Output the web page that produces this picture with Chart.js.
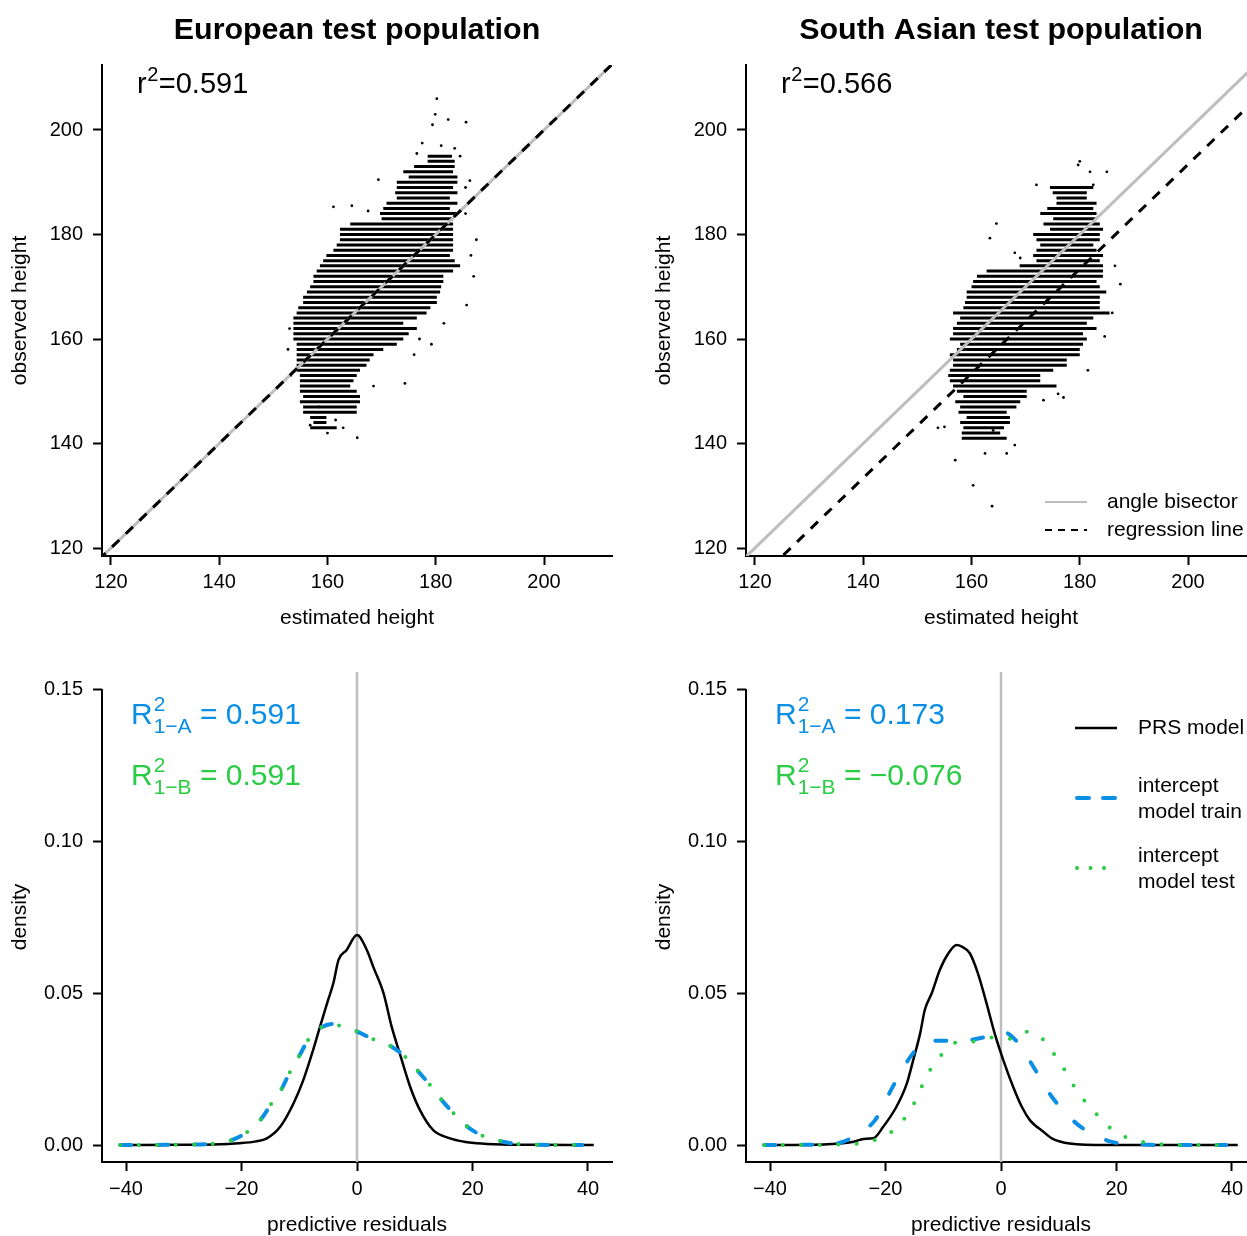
<!DOCTYPE html>
<html><head><meta charset="utf-8">
<script src="https://cdn.jsdelivr.net/npm/chart.js@4.4.1/dist/chart.umd.min.js"></script>
<style>
html,body{margin:0;padding:0;background:#fff;}
body{width:1247px;height:1236px;overflow:hidden;position:relative;}
canvas{position:absolute;}
</style></head><body>
<canvas id="tl" width="645" height="640" style="left:0px;top:0px"></canvas>
<canvas id="tr" width="645" height="640" style="left:644px;top:0px"></canvas>
<canvas id="bl" width="645" height="630" style="left:0px;top:620px"></canvas>
<canvas id="br" width="645" height="630" style="left:644px;top:620px"></canvas>
<script>
// ---------------- DATA ----------------
const panelTitles = ['European test population', 'South Asian test population'];
const estTicks = [120, 140, 160, 180, 200];
const estTickLabels = ['120', '140', '160', '180', '200'];
const obsTicks = [120, 140, 160, 180, 200];
const obsTickLabels = ['120', '140', '160', '180', '200'];
const residTicks = [-40, -20, 0, 20, 40];
const residTickLabels = ['\u221240', '\u221220', '0', '20', '40'];
const densTicks = [0, 0.05, 0.10, 0.15];
const densTickLabels = ['0.00', '0.05', '0.10', '0.15'];

// European scatter: rows of observed height (cm) with range of estimated height
const euObs = [195,194,193,192,191,190,189,188,187,186,185,184,183,182,181,180,179,178,177,176,175,174,173,172,171,170,169,168,167,166,165,164,163,162,161,160,159,158,157,156,155,154,153,152,151,150,149,148,147,146,145,144,143];
const euEstLo = [178.5,178.5,176,174,175,172.8,172.8,172.5,172.8,170.9,170.3,169.7,170,164.2,162.3,162.3,162.3,161.7,161.1,159.8,159.2,158.6,158,157.4,157.4,156.8,156.2,155.5,155.5,154.6,154.3,153.7,153.7,153.7,153.7,153.7,154.3,154.3,154.3,154.3,154.3,154.3,154.9,154.9,154.9,154.9,155.5,154.9,155.5,155.5,156.8,157.4,156.8];
const euEstHi = [183,183.5,183.5,183.2,184,184,183.2,184,182.6,184,182.6,184,183.2,183.2,183.2,183.2,183.2,183.2,183.2,182.6,183.5,184.5,183.2,181.4,181.4,181,180.8,180.2,180.2,179,178.3,176.5,174,176.5,175,174,172.8,170.3,168.5,167.8,167.2,166,165.4,164.8,164.2,165.4,166,166,165.4,165.4,159.8,159.8,161.7];
const euOutEst = [180.2,179.9,182.3,185.6,179.4,177.5,181,183.5,176.5,184.5,169.4,186.3,185.5,161.1,164.5,167.5,187.5,185.5,186.5,187,185.7,177,179.2,176,181.5,168.5,174.3,165.5,156.8,161.5,153,152.7,153.2,158.5,160,162.9];
const euOutObs = [206,203,202,201.5,201,197.5,197,196.5,195.5,195,190.5,190.3,189,185.3,185.5,184.5,179,184,176,172,166.5,160,159,157,163,151,151.5,141.1,143.5,144.5,162,158,153,147,142,143];
const euRegCoef = [0.0, 1.0];   // intercept, slope
const euR2 = '0.591';

// South Asian scatter
const saObs = [189,188,187,186,185,184,183,182,181,180,179,178,177,176,175,174,173,172,171,170,169,168,167,166,165,164,163,162,161,160,159,158,157,156,155,154,153,152,151,150,149,148,147,146,145,144,143,142,141];
const saEstLo = [174.5,175,175.7,175.7,174,172.7,175.1,173.3,174.5,171.4,172,172.7,172,171.4,172,168.9,162.8,161,160.3,160,159.1,159.1,158.8,158.5,156.6,157.9,157.3,156.6,156.6,156,157.9,157.3,156,156.6,156.6,156,155.7,156,156.6,157.3,158.5,157,157.9,157.6,159.1,157.9,158.5,158.2,158.2];
const saEstHi = [182.5,181.3,181.3,183.1,182.5,183.1,183.1,183.7,184.3,183.7,183.7,182.5,183.1,184.3,183.7,184.3,184.3,184.3,183.1,183.7,184.9,183.7,183.7,183.7,185.5,182.5,181.3,183.1,180.6,181.3,180.6,180,180,177.6,177.6,175.1,172.7,172.7,175.7,170.2,170.2,169,168.3,166.5,167.1,167.1,166,165.3,166.5];
const saOutEst = [180,179.7,181.9,185,172,182.5,164.6,163.4,168,169,186.5,187.5,186,184.6,181.5,176,177,173.3,153.8,155,164,168,162.5,166.5,157,160.3,163.8];
const saOutObs = [194,193.3,192,192,189.5,189.5,182.1,179.3,176.5,175.5,174,170.5,165,160.5,154,149.5,148.8,148.3,143,143.2,142.5,139.7,138.1,138.1,136.8,132,128];
const saRegCoef = [-6.6, 1.0];
const saR2 = '0.566';

// Density of predictive residuals, European
const euPrsX = [-41,-30,-25,-20.3,-17.5,-15.6,-13.3,-11.0,-9.3,-7.6,-6.4,-5.0,-4.1,-3.2,-1.8,0,1.7,2.8,4.6,6.0,7.4,9.2,10.9,13.2,16.1,18.5,20.7,25,30,41];
const euPrsD = [0,0.0001,0.0002,0.0006,0.0012,0.0022,0.006,0.0137,0.0214,0.0313,0.039,0.0478,0.0533,0.061,0.0643,0.0692,0.0643,0.0588,0.05,0.039,0.0302,0.0192,0.0115,0.0049,0.0022,0.0011,0.0006,0.0002,0.0001,0];
const euTrainX = [-41,-30,-25,-21.7,-18.8,-16.5,-14.8,-13.0,-11.5,-9.9,-8.4,-6.4,-4.1,-2.6,0,3.1,6.0,8.6,10.9,12.9,14.9,17.0,19.5,22.2,25.3,27.5,30,39];
const euTrainD = [0,0.0001,0.0004,0.0016,0.0046,0.0088,0.0137,0.0187,0.0245,0.0297,0.0348,0.0385,0.0399,0.039,0.0374,0.0346,0.0324,0.0286,0.0236,0.0192,0.0143,0.0099,0.0055,0.0027,0.0011,0.0004,0.0001,0];
const euTestX = [-41,-30,-25,-21.7,-18.8,-16.5,-14.8,-13.0,-11.5,-9.9,-8.4,-6.4,-4.1,-2.6,0,3.1,6.0,8.6,10.9,12.9,14.9,17.0,19.5,22.2,25.3,27.5,30,39];
const euTestD = [0,0.0001,0.0004,0.0016,0.0046,0.0088,0.0137,0.0187,0.0245,0.0297,0.0348,0.0385,0.0399,0.039,0.0374,0.0346,0.0324,0.0286,0.0236,0.0192,0.0143,0.0099,0.0055,0.0027,0.0011,0.0004,0.0001,0];
const euR2A = '0.591', euR2B = '0.591';

// Density of predictive residuals, South Asian
const saPrsX = [-41,-30.8,-25.5,-23.8,-22.1,-20.4,-18.1,-16.3,-15.2,-14.0,-13.2,-12.0,-10.6,-9.1,-7.7,-6.8,-5.4,-4.0,-2.5,-1.1,0.4,2.1,3.6,5.0,6.2,7.0,8.8,11.9,18.3,41];
const saPrsD = [0,0.0002,0.0011,0.002,0.0022,0.006,0.0126,0.0203,0.028,0.0368,0.0445,0.05,0.0577,0.0632,0.0659,0.0654,0.0632,0.0566,0.0467,0.0368,0.028,0.0192,0.0126,0.0082,0.006,0.0049,0.0022,0.0005,0,0];
const saTrainX = [-41,-30,-27.3,-24.5,-21.8,-18.8,-15.6,-13.5,-10.6,-7,-4.8,-2.8,0.3,2.8,5.6,8.8,13.2,18.7,24,30,39];
const saTrainD = [0,0.0002,0.0011,0.004,0.0082,0.019,0.0293,0.0335,0.0344,0.0342,0.0348,0.0356,0.0373,0.034,0.0258,0.0159,0.0069,0.0013,0.0002,0,0];
const saTestX = [-41,-31.2,-28.0,-24.7,-21.5,-18.8,-16.6,-14.9,-13.6,-12.1,-10.2,-7.7,-4.5,-1.3,1.9,4.8,7.4,9.3,11.1,12.7,14.6,16.7,19.0,21.8,24.9,28.1,31.4,39];
const saTestD = [0,0,0.0002,0.0005,0.0019,0.0046,0.009,0.0143,0.0198,0.0253,0.03,0.0338,0.0341,0.0355,0.035,0.0374,0.0346,0.0297,0.0245,0.0192,0.0143,0.0099,0.0055,0.0024,0.0009,0.0002,0,0];
const saR2A = '0.173', saR2B = '\u22120.076';

const legendTop = ['angle bisector', 'regression line'];
const legendBottom = [['PRS model'], ['intercept', 'model train'], ['intercept', 'model test']];

// ---------------- STYLE ----------------
const FF = "'Liberation Sans', Arial, Helvetica, sans-serif";
const BLUE = '#0A8FE4';
const GREEN = '#2ACB45';
const GREY = '#BEBEBE';
Chart.defaults.font.family = FF;
Chart.defaults.color = '#000';

const decorations = {};
Chart.register({
  id: 'deco',
  afterDraw(chart) { const f = decorations[chart.canvas.id]; if (f) f(chart.ctx, chart); }
});

function xy(xs, ys) { return xs.map((v, i) => ({x: v, y: ys[i]})); }

function axisCommon(ticksVals, labels, fontSize, pad, titleText, titlePad, isY, fitSize, borderShow) {
  return {
    type: 'linear',
    afterBuildTicks: s => { s.ticks = ticksVals.map(v => ({value: v})); },
    afterFit: s => { if (isY) s.width = fitSize; else s.height = fitSize; },
    ticks: {
      autoSkip: false, maxRotation: 0, padding: pad, color: '#000',
      font: {size: fontSize, family: FF},
      callback: (v, i) => labels[i]
    },
    grid: {drawOnChartArea: false, drawTicks: true, tickLength: 9, tickWidth: 2, tickColor: '#000'},
    border: {display: borderShow, color: '#000', width: 2},
    title: {display: true, text: titleText, color: '#000', font: {size: 21, family: FF}, padding: titlePad}
  };
}

function drawSupText(ctx, x, y, base, sup, rest, size) {
  ctx.font = size + 'px ' + FF;
  ctx.fillText(base, x, y);
  const w = ctx.measureText(base).width;
  const ss = Math.round(size * 0.7);
  ctx.font = ss + 'px ' + FF;
  ctx.fillText(sup, x + w + 0.5, y - size * 0.42);
  const ws = ctx.measureText(sup).width;
  ctx.font = size + 'px ' + FF;
  ctx.fillText(rest, x + w + ws + 1, y);
}

function drawR2(ctx, x, y, sub, val, color) {
  const size = 30, ss = 21;
  ctx.fillStyle = color; ctx.textAlign = 'left'; ctx.textBaseline = 'alphabetic';
  ctx.font = size + 'px ' + FF;
  ctx.fillText('R', x, y);
  const w = ctx.measureText('R').width;
  ctx.font = ss + 'px ' + FF;
  ctx.fillText('2', x + w + 1, y - 13);
  const ws = ctx.measureText('2').width;
  ctx.fillText(sub, x + w + 1, y + 9);
  const wb = ctx.measureText(sub).width;
  ctx.font = size + 'px ' + FF;
  ctx.fillText(' = ' + val, x + w + 1 + Math.max(ws, wb), y);
}

function makeTop(id, offX, offY, obs, lo, hi, outEst, outObs, reg, r2, title, showLegend) {
  decorations[id] = (ctx, chart) => {
    const ca = chart.chartArea;
    ctx.save();
    ctx.translate(-offX, -offY);
    ctx.fillStyle = '#000';
    ctx.textAlign = 'center'; ctx.textBaseline = 'alphabetic';
    ctx.font = 'bold 30.4px ' + FF;
    ctx.fillText(title, offX + (ca.left + ca.right) / 2, 39);
    ctx.textAlign = 'left';
    drawSupText(ctx, offX + 137, 93, 'r', '2', '=' + r2, 29);
    if (showLegend) {
      ctx.lineWidth = 2;
      ctx.strokeStyle = GREY; ctx.setLineDash([]);
      ctx.beginPath(); ctx.moveTo(1045, 502); ctx.lineTo(1087, 502); ctx.stroke();
      ctx.strokeStyle = '#000'; ctx.setLineDash([7, 6]);
      ctx.beginPath(); ctx.moveTo(1045, 530); ctx.lineTo(1087, 530); ctx.stroke();
      ctx.setLineDash([]);
      ctx.font = '21px ' + FF; ctx.textBaseline = 'middle'; ctx.fillStyle = '#000';
      ctx.fillText(legendTop[0], 1107, 502);
      ctx.fillText(legendTop[1], 1107, 530);
    }
    ctx.restore();
  };
  const rowData = [];
  obs.forEach((h, i) => { rowData.push({x: lo[i], y: h}, {x: hi[i], y: h}, {x: hi[i], y: null}); });
  const span = [100, 230];
  const bis = span.map(v => ({x: v, y: v}));
  const regLine = span.map(v => ({x: v, y: reg[0] + reg[1] * v}));
  new Chart(document.getElementById(id), {
    type: 'scatter',
    data: {datasets: [
      {data: rowData, showLine: true, spanGaps: false, borderColor: '#000', borderWidth: 3, pointRadius: 0, order: 4},
      {data: xy(outEst, outObs), showLine: false, pointRadius: 1.4, pointBackgroundColor: '#000', pointBorderWidth: 0, order: 3},
      {data: bis, showLine: true, borderColor: GREY, borderWidth: 3, pointRadius: 0, order: 2},
      {data: regLine, showLine: true, borderColor: '#000', borderWidth: 3, borderDash: [10, 9], pointRadius: 0, order: 1}
    ]},
    options: {
      responsive: false, animation: false, devicePixelRatio: 1, events: [],
      layout: {padding: {left: 0, top: 65, right: 33, bottom: 0}},
      plugins: {legend: {display: false}, tooltip: {enabled: false}},
      scales: {
        x: Object.assign(axisCommon(estTicks, estTickLabels, 20, 5, 'estimated height', {top: 0, bottom: 9.4}, false, 84, true), {min: 118.34, max: 212.56}),
        y: Object.assign(axisCommon(obsTicks, obsTickLabels, 20, 10, 'observed height', {top: 7.4, bottom: 0}, true, 102, true), {min: 118.47, max: 212.44})
      }
    }
  });
}

function makeBottom(id, offX, offY, prsX, prsD, trX, trD, teX, teD, r2a, r2b, showLegend) {
  decorations[id] = (ctx, chart) => {
    const ca = chart.chartArea;
    const ys = chart.scales.y;
    ctx.save();
    // partial y axis line (from top tick down to x axis)
    ctx.strokeStyle = '#000'; ctx.lineWidth = 2; ctx.setLineDash([]);
    ctx.beginPath();
    ctx.moveTo(Math.round(ca.left), ys.getPixelForValue(densTicks[densTicks.length - 1]) - 1);
    ctx.lineTo(Math.round(ca.left), ca.bottom + 1);
    ctx.stroke();
    ctx.translate(-offX, -offY);
    drawR2(ctx, offX + 131, 724, '1\u2212A', r2a, BLUE);
    drawR2(ctx, offX + 131, 785, '1\u2212B', r2b, GREEN);
    if (showLegend) {
      ctx.lineCap = 'butt';
      ctx.strokeStyle = '#000'; ctx.lineWidth = 2.5;
      ctx.beginPath(); ctx.moveTo(1075, 728); ctx.lineTo(1117, 728); ctx.stroke();
      ctx.strokeStyle = BLUE; ctx.lineWidth = 4; ctx.lineCap = 'round';
      ctx.beginPath(); ctx.moveTo(1077, 798); ctx.lineTo(1089, 798); ctx.stroke();
      ctx.beginPath(); ctx.moveTo(1103, 798); ctx.lineTo(1115, 798); ctx.stroke();
      ctx.fillStyle = GREEN;
      [1077, 1090.5, 1104].forEach(x => { ctx.beginPath(); ctx.arc(x, 868, 2, 0, Math.PI * 2); ctx.fill(); });
      ctx.fillStyle = '#000'; ctx.font = '21px ' + FF; ctx.textAlign = 'left'; ctx.textBaseline = 'middle';
      ctx.fillText(legendBottom[0][0], 1138, 728);
      ctx.fillText(legendBottom[1][0], 1138, 786);
      ctx.fillText(legendBottom[1][1], 1138, 812);
      ctx.fillText(legendBottom[2][0], 1138, 856);
      ctx.fillText(legendBottom[2][1], 1138, 882);
    }
    ctx.restore();
  };
  new Chart(document.getElementById(id), {
    type: 'scatter',
    data: {datasets: [
      {data: [{x: 0, y: -1}, {x: 0, y: 1}], showLine: true, borderColor: GREY, borderWidth: 2.5, pointRadius: 0, order: 4},
      {data: xy(prsX, prsD), showLine: true, borderColor: '#000', borderWidth: 2.5, pointRadius: 0, cubicInterpolationMode: 'monotone', order: 3},
      {data: xy(trX, trD), showLine: true, borderColor: BLUE, borderWidth: 4, borderDash: [11, 26], borderCapStyle: 'round', pointRadius: 0, cubicInterpolationMode: 'monotone', order: 2},
      {data: xy(teX, teD), showLine: true, borderColor: GREEN, borderWidth: 4, borderDash: [0, 18.5], borderCapStyle: 'round', pointRadius: 0, cubicInterpolationMode: 'monotone', order: 1}
    ]},
    options: {
      responsive: false, animation: false, devicePixelRatio: 1, events: [],
      layout: {padding: {left: 0, top: 52, right: 33, bottom: 0}},
      plugins: {legend: {display: false}, tooltip: {enabled: false}},
      scales: {
        x: Object.assign(axisCommon(residTicks, residTickLabels, 20, 6, 'predictive residuals', {top: 0, bottom: 12.4}, false, 88, true), {min: -44.156, max: 44.156}),
        y: Object.assign(axisCommon(densTicks, densTickLabels, 20, 10, 'density', {top: 7.4, bottom: 0}, true, 102, false), {min: -0.0056, max: 0.1559})
      }
    }
  });
}

makeTop('tl', 0, 0, euObs, euEstLo, euEstHi, euOutEst, euOutObs, euRegCoef, euR2, panelTitles[0], false);
makeTop('tr', 644, 0, saObs, saEstLo, saEstHi, saOutEst, saOutObs, saRegCoef, saR2, panelTitles[1], true);
makeBottom('bl', 0, 620, euPrsX, euPrsD, euTrainX, euTrainD, euTestX, euTestD, euR2A, euR2B, false);
makeBottom('br', 644, 620, saPrsX, saPrsD, saTrainX, saTrainD, saTestX, saTestD, saR2A, saR2B, true);
</script>
</body></html>
